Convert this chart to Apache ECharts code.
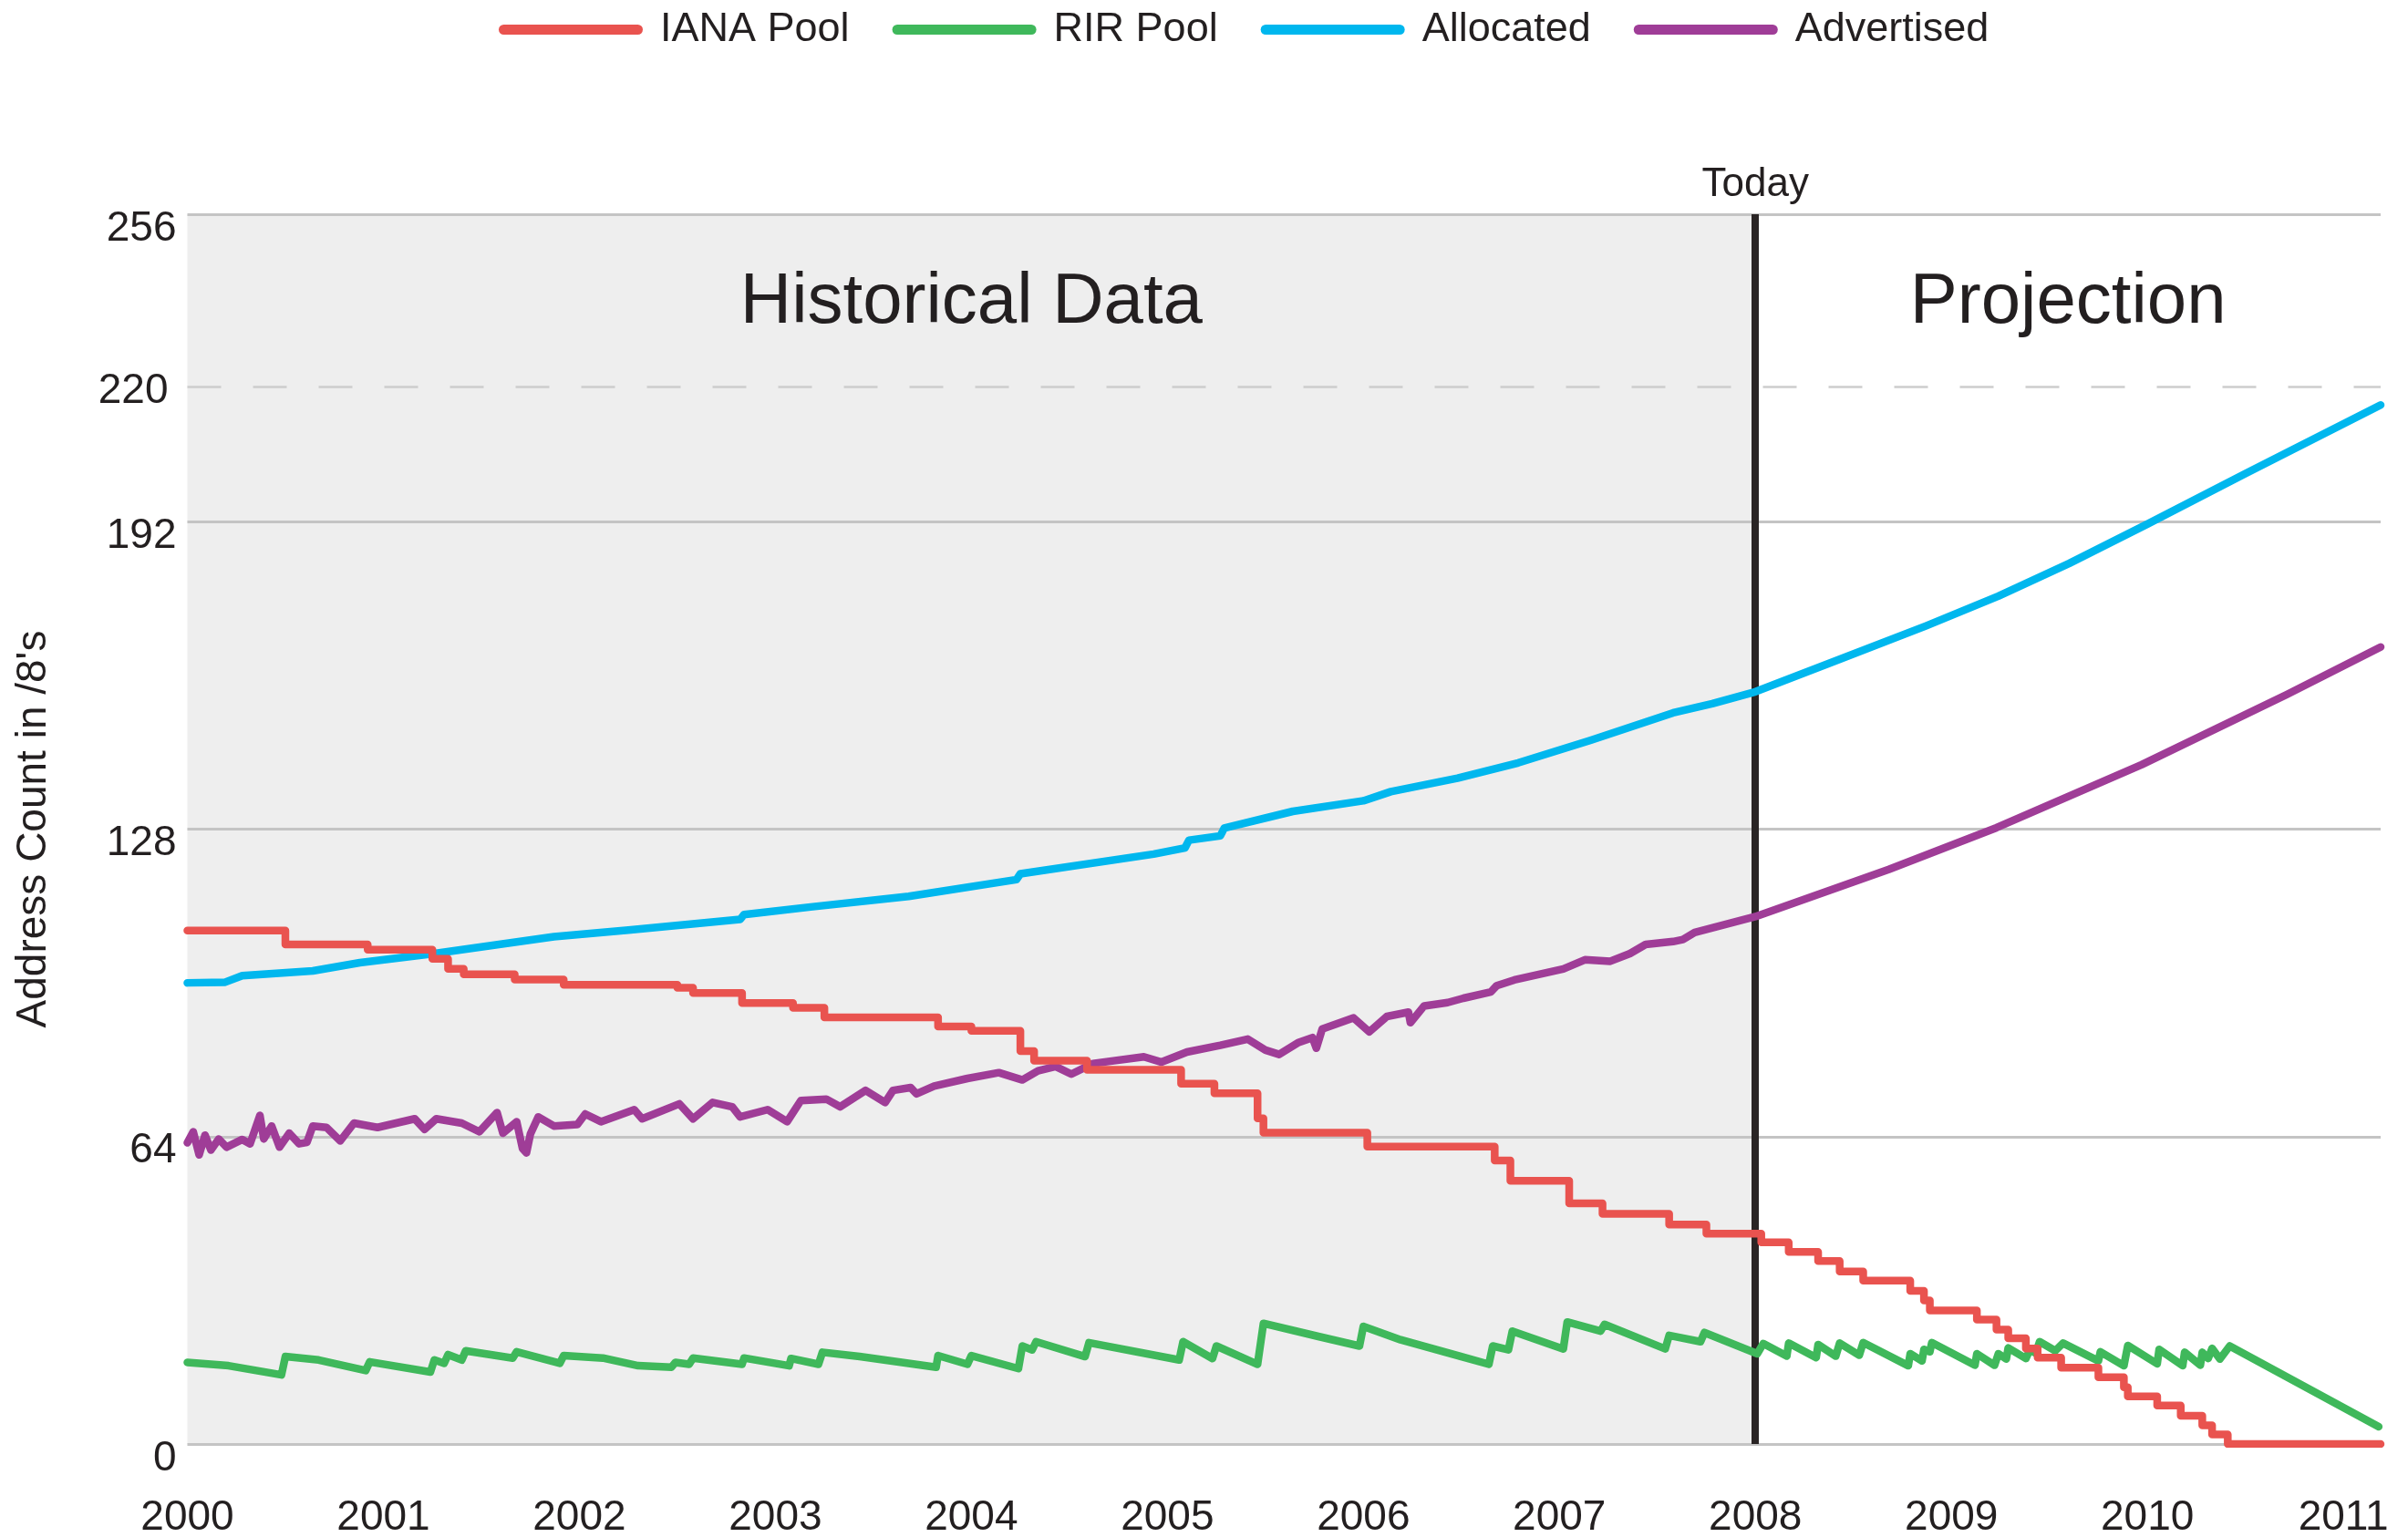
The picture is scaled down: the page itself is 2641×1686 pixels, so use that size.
<!DOCTYPE html>
<html>
<head>
<meta charset="utf-8">
<script src="https://cdn.jsdelivr.net/npm/echarts@6/dist/echarts.min.js"></script>
<style>
html,body{margin:0;padding:0;background:#fff;}
#chart{width:2641px;height:1686px;}
</style>
</head>
<body>
<div id="chart"></div>
<script>
// ---- data (year, /8 count) ----
const seriesNames = ['IANA Pool', 'RIR Pool', 'Allocated', 'Advertised'];
const xTicks = [2000, 2001, 2002, 2003, 2004, 2005, 2006, 2007, 2008, 2009, 2010, 2011];
const yTicks = [0, 64, 128, 192, 220, 256];
const xMin = 2000;
const xMax = 2011.19;
const todayYear = 2008;
const dashedLevel = 220;
const regionLabels = ['Historical Data', 'Projection'];

const ianaPool = [
  [2000.00,106.9],[2000.50,104.0],[2000.92,102.9],[2001.25,101.0],[2001.33,98.9],[2001.41,97.8],
  [2001.67,96.7],[2001.92,95.6],[2002.50,95.0],[2002.58,93.9],[2002.83,91.8],[2003.09,90.8],
  [2003.25,88.8],[2003.83,86.9],[2004.00,86.0],[2004.25,81.8],[2004.32,79.8],[2004.59,77.9],
  [2005.07,75.0],[2005.24,73.0],[2005.46,67.8],[2005.49,64.8],[2006.02,61.9],[2006.67,59.0],
  [2006.75,54.8],[2007.05,50.1],[2007.22,47.9],[2007.56,45.7],[2007.75,43.8],[2008.03,42.0],
  [2008.17,40.0],[2008.32,38.1],[2008.43,35.9],[2008.55,34.0],[2008.79,31.9],[2008.86,29.9],
  [2008.89,27.8],[2009.13,25.9],[2009.23,23.8],[2009.29,22.0],[2009.38,19.9],[2009.44,18.0],
  [2009.56,15.9],[2009.75,13.9],[2009.88,11.8],[2009.90,9.9],[2010.05,8.0],[2010.17,5.9],
  [2010.28,3.9],[2010.33,2.0],[2010.41,0],[2011.19,0]
];

const rirPool = [
  [2000.00,17.0],[2000.21,16.3],[2000.48,14.4],[2000.50,18.2],[2000.67,17.5],[2000.91,15.3],[2000.93,17.1],
  [2001.24,15.0],[2001.26,17.5],[2001.31,16.8],[2001.33,18.6],[2001.40,17.5],[2001.42,19.4],[2001.66,17.9],
  [2001.68,19.2],[2001.90,16.8],[2001.92,18.4],[2002.12,17.9],[2002.30,16.3],[2002.47,16.0],[2002.49,17.0],
  [2002.56,16.6],[2002.58,17.9],[2002.83,16.6],[2002.84,17.9],[2003.07,16.3],[2003.08,17.8],[2003.22,16.6],
  [2003.24,19.1],[2003.43,18.2],[2003.82,16.0],[2003.83,18.4],[2003.98,16.6],[2004.00,18.4],[2004.24,15.7],
  [2004.26,20.4],[2004.31,19.6],[2004.33,21.3],[2004.58,18.2],[2004.60,21.1],[2005.06,17.5],[2005.08,21.3],
  [2005.23,17.8],[2005.25,20.4],[2005.46,16.6],[2005.49,25.1],[2005.78,22.3],[2005.98,20.4],[2006.00,24.5],
  [2006.19,21.7],[2006.50,18.2],[2006.64,16.6],[2006.66,20.4],[2006.74,19.6],[2006.76,23.5],[2007.02,19.8],
  [2007.04,25.4],[2007.21,23.5],[2007.23,24.9],[2007.54,19.8],[2007.56,22.6],[2007.72,21.3],[2007.74,23.2],
  [2008.01,18.8],[2008.04,20.9],[2008.16,18.3],[2008.17,21.0],[2008.31,18.0],[2008.32,20.7],[2008.41,18.3],
  [2008.43,21.0],[2008.53,18.5],[2008.55,21.1],[2008.78,16.3],[2008.79,18.8],[2008.85,17.3],[2008.86,19.7],
  [2008.89,19.2],[2008.90,21.1],[2009.12,16.4],[2009.13,18.8],[2009.22,16.4],[2009.24,18.8],[2009.28,17.7],
  [2009.29,20.0],[2009.38,17.8],[2009.40,19.6],[2009.43,18.9],[2009.45,21.3],[2009.53,19.4],[2009.57,21.0],
  [2009.75,17.3],[2009.76,19.2],[2009.88,16.3],[2009.90,20.5],[2010.05,16.7],[2010.06,19.7],[2010.18,16.3],
  [2010.19,19.1],[2010.27,16.4],[2010.28,19.1],[2010.31,17.8],[2010.33,19.9],[2010.37,17.7],[2010.42,20.4],
  [2011.18,3.6]
];

const allocated = [
  [2000.00,96.0],[2000.19,96.1],[2000.28,97.5],[2000.64,98.5],[2000.88,100.2],[2001.26,102.1],
  [2001.87,105.6],[2002.25,107.0],[2002.82,109.2],[2002.84,110.2],[2003.18,111.8],[2003.68,114.0],
  [2004.23,117.5],[2004.25,118.7],[2004.93,122.8],[2005.09,124.1],[2005.11,125.7],[2005.27,126.6],
  [2005.29,128.2],[2005.64,131.7],[2006.00,133.9],[2006.14,135.8],[2006.48,138.6],[2006.79,141.8],
  [2007.16,146.5],[2007.58,152.2],[2007.78,154.1],[2008.00,156.6],[2008.42,163.2],[2008.87,170.3],
  [2009.24,176.5],[2009.60,183.3],[2010.00,191.5],[2010.50,202.0],[2011.19,216.3]
];

const advertised = [
  [2000.00,62.7],[2000.03,65.0],[2000.06,60.2],[2000.09,64.3],[2000.12,61.2],[2000.16,63.5],[2000.20,61.8],
  [2000.28,63.4],[2000.32,62.5],[2000.37,68.4],[2000.39,63.5],[2000.43,66.2],[2000.47,61.8],[2000.52,64.7],
  [2000.57,62.5],[2000.61,62.8],[2000.64,66.2],[2000.71,65.9],[2000.78,63.1],[2000.85,66.8],[2000.97,65.9],
  [2001.16,67.7],[2001.21,65.5],[2001.27,67.7],[2001.40,66.8],[2001.49,65.0],[2001.58,69.0],[2001.61,64.7],
  [2001.68,67.1],[2001.71,61.5],[2001.73,60.6],[2001.75,64.5],[2001.79,68.1],[2001.87,66.2],[2001.99,66.5],
  [2002.03,68.7],[2002.11,67.1],[2002.28,69.6],[2002.32,67.7],[2002.51,70.8],[2002.58,67.7],[2002.68,71.1],
  [2002.78,70.2],[2002.82,68.1],[2002.96,69.6],[2003.06,67.1],[2003.13,71.5],[2003.26,71.8],[2003.33,70.2],
  [2003.46,73.6],[2003.56,71.1],[2003.60,73.6],[2003.69,74.2],[2003.72,72.9],[2003.81,74.5],[2003.98,76.1],
  [2004.14,77.3],[2004.26,75.8],[2004.34,77.7],[2004.43,78.6],[2004.51,77.0],[2004.62,79.2],[2004.88,80.6],
  [2004.97,79.5],[2005.10,81.6],[2005.27,83.0],[2005.41,84.3],[2005.50,82.0],[2005.57,81.1],[2005.67,83.6],
  [2005.74,84.6],[2005.76,82.4],[2005.79,86.4],[2005.95,88.7],[2006.03,85.8],[2006.12,89.0],[2006.23,89.9],
  [2006.24,87.7],[2006.31,91.2],[2006.43,91.9],[2006.51,92.8],[2006.65,94.1],[2006.68,95.4],[2006.77,96.6],
  [2007.02,98.9],[2007.13,100.8],[2007.26,100.5],[2007.36,102.1],[2007.44,104.0],[2007.58,104.6],
  [2007.63,105.0],[2007.69,106.5],[2008.00,109.8],[2008.68,119.6],[2009.23,128.3],[2009.97,141.4],
  [2010.71,156.0],[2011.19,165.9]
];

// ---- styling ----
const FONT = '"Liberation Sans", Arial, Helvetica, sans-serif';
const TXT = '#231f20';
const colors = { 'IANA Pool': '#e9534f', 'RIR Pool': '#3fb85b', 'Allocated': '#00b7ee', 'Advertised': '#9f3d97' };
const pill = 'path://M5.5,0H152.5A5.5,5.5,0,0,1,152.5,11H5.5A5.5,5.5,0,0,1,5.5,0Z';

function lineSeries(name, data, extra) {
  return Object.assign({
    name: name, type: 'line', data: data, symbol: 'none', z: 5,
    lineStyle: { color: colors[name], width: 8.5, cap: 'round', join: 'round' },
    itemStyle: { color: colors[name] }
  }, extra || {});
}

const chart = echarts.init(document.getElementById('chart'), null, { renderer: 'canvas' });
chart.setOption({
  animation: false,
  backgroundColor: '#ffffff',
  legend: {
    data: seriesNames,
    top: 5, left: 542,
    itemWidth: 158, itemHeight: 11, itemGap: 47,
    icon: pill,
    textStyle: { fontSize: 45, color: TXT, fontFamily: FONT, padding: [0, 0, 0, 14] }
  },
  grid: { left: 205.5, right: 30, top: 235, bottom: 102, containLabel: false, outerBoundsMode: 'none' },
  xAxis: {
    type: 'value', min: xMin, max: xMax, interval: 1,
    axisLine: { show: false }, axisTick: { show: false }, splitLine: { show: false },
    axisLabel: {
      customValues: xTicks, margin: 58, fontSize: 46, color: TXT, fontFamily: FONT,
      formatter: function (v) { return Math.abs(v - Math.round(v)) < 1e-6 ? String(Math.round(v)) : ''; }
    }
  },
  yAxis: {
    type: 'value', min: 0, max: 256, interval: 64, z: 3,
    name: "Address Count in /8's", nameLocation: 'middle', nameGap: 145,
    nameTextStyle: { fontSize: 46, color: TXT, fontFamily: FONT },
    axisLine: { show: false }, axisTick: { show: false },
    splitLine: { show: true, lineStyle: { color: '#c4c4c4', width: 3 } },
    axisLabel: {
      customValues: yTicks, margin: 12,
      formatter: function (v) { return v === dashedLevel ? '{b|' + v + '}' : '{a|' + v + '}'; },
      rich: {
        a: { fontSize: 46, color: TXT, fontFamily: FONT, padding: [32, 0, 0, 0] },
        b: { fontSize: 46, color: TXT, fontFamily: FONT, padding: [10, 9, 0, 0] }
      }
    }
  },
  series: [
    {
      name: 'regions', type: 'line', data: [], z: 1, silent: true,
      markArea: {
        silent: true,
        label: { show: true, position: 'insideTop', distance: 58, fontSize: 78, color: TXT, fontFamily: FONT },
        data: [
          [{ xAxis: xMin, name: regionLabels[0], itemStyle: { color: '#eeeeee' } }, { xAxis: todayYear }],
          [{ xAxis: todayYear, name: regionLabels[1], itemStyle: { color: 'rgba(0,0,0,0)' } }, { xAxis: xMax }]
        ]
      }
    },
    {
      name: 'ref', type: 'line', data: [], z: 3, silent: true,
      markLine: {
        silent: true, symbol: 'none', label: { show: false },
        lineStyle: { color: '#cdcdcd', width: 2.5, type: [37, 35] },
        data: [{ yAxis: dashedLevel }]
      }
    },
    lineSeries('Allocated', allocated),
    lineSeries('Advertised', advertised),
    lineSeries('RIR Pool', rirPool),
    lineSeries('IANA Pool', ianaPool, { step: 'end' }),
    {
      name: 'today', type: 'line', data: [], z: 8, silent: true,
      markLine: {
        silent: true, symbol: 'none',
        label: { show: true, position: 'end', formatter: 'Today', distance: 10, fontSize: 44, color: TXT, fontFamily: FONT },
        lineStyle: { color: '#2a2525', width: 8, type: 'solid' },
        data: [{ xAxis: todayYear }]
      }
    }
  ]
});
</script>
</body>
</html>
